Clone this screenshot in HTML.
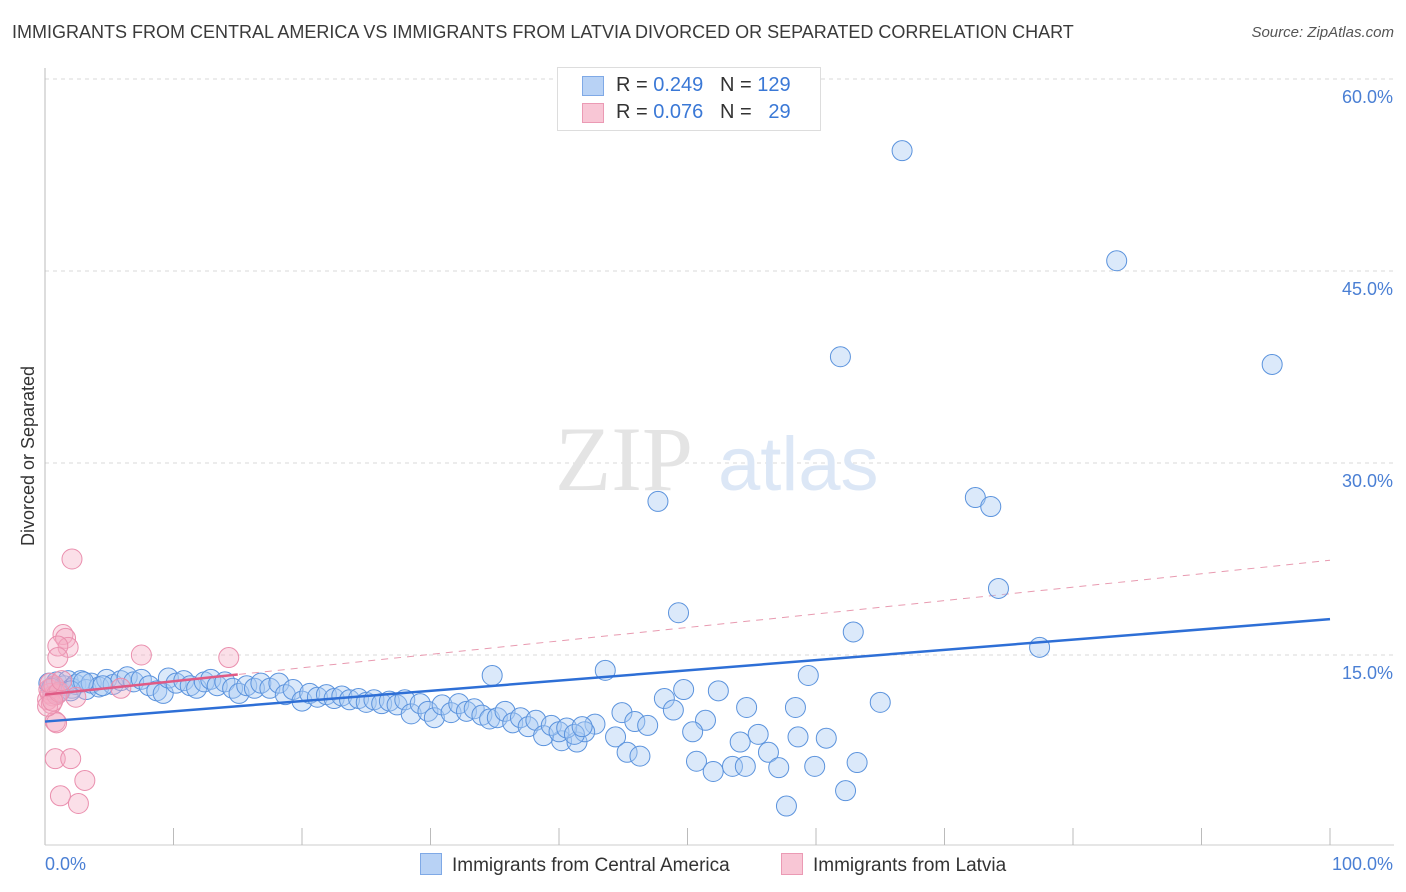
<!DOCTYPE html>
<html><head><meta charset="utf-8">
<style>
body{margin:0;background:#fff;font-family:"Liberation Sans",sans-serif;}
#wrap{position:relative;width:1406px;height:892px;overflow:hidden;}
.t{position:absolute;white-space:nowrap;}
</style></head>
<body>
<div id="wrap">
<div class="t" style="left:12px;top:22px;font-size:18px;color:#3a3a3a;">IMMIGRANTS FROM CENTRAL AMERICA VS IMMIGRANTS FROM LATVIA DIVORCED OR SEPARATED CORRELATION CHART</div>
<div class="t" style="right:12px;top:24px;font-size:15px;color:#555;font-style:italic;">Source: ZipAtlas.com</div>
<svg id="chart" width="1406" height="892" style="position:absolute;left:0;top:0"></svg>
</div>
<script>
const yTicks=[15,30,45,60];
const yTickLabels=["15.0%","30.0%","45.0%","60.0%"];
const xTickLabels=["0.0%","100.0%"];
const blueX=[66.7,83.4,61.9,95.5,47.7,72.4,73.6,74.2,49.3,62.9,77.4,43.6,34.8,59.4,49.7,52.4,48.2,65.0,58.4,54.6,48.9,51.4,44.9,45.9,46.9,42.8,60.8,58.6,55.5,50.4,54.1,56.3,44.4,45.3,46.3,50.7,63.2,52.0,53.5,54.5,57.1,59.9,62.3,57.7,40.2,41.4,42.0,
0.3,0.6,0.9,1.2,1.5,1.8,2.1,2.4,2.8,3.2,3.6,4.2,4.8,5.3,5.9,6.4,6.9,7.5,8.1,8.7,9.2,9.6,10.2,10.8,11.3,11.8,12.4,12.9,13.4,14.0,14.6,15.1,15.7,16.3,16.8,17.5,18.2,18.7,19.3,20.0,20.6,21.2,21.9,22.5,23.1,23.7,24.4,25.0,25.6,26.2,26.8,27.4,28.0,28.5,29.2,29.8,30.3,30.9,31.6,32.2,32.8,33.4,34.0,34.6,35.2,35.8,36.4,37.0,37.6,38.2,38.8,39.4,40.0,40.6,41.2,41.8,1.0,2.0,3.0,4.5,0.5];
const blueY=[54.4,45.8,38.3,37.7,27.0,27.3,26.6,20.2,18.3,16.8,15.6,13.8,13.4,13.4,12.3,12.2,11.6,11.3,10.9,10.9,10.7,9.9,10.5,9.8,9.5,9.6,8.5,8.6,8.8,9.0,8.2,7.4,8.6,7.4,7.1,6.7,6.6,5.9,6.3,6.3,6.2,6.3,4.4,3.2,8.3,8.2,9.0,
12.8,12.5,12.9,12.2,12.6,13.0,12.4,12.7,13.0,12.3,12.8,12.5,13.1,12.7,13.0,13.3,12.9,13.1,12.6,12.2,12.0,13.2,12.8,13.0,12.6,12.4,12.9,13.1,12.6,12.9,12.4,12.0,12.6,12.4,12.8,12.4,12.8,11.9,12.3,11.4,12.0,11.7,11.9,11.6,11.8,11.5,11.6,11.3,11.5,11.2,11.4,11.1,11.5,10.4,11.2,10.6,10.1,11.1,10.5,11.2,10.6,10.8,10.3,10.0,10.1,10.6,9.7,10.1,9.4,9.9,8.7,9.5,9.0,9.3,8.8,9.4,12.0,12.2,12.9,12.6,12.4];
const pinkX=[2.1,1.4,1.6,1.8,1.0,1.0,7.5,14.3,5.9,2.4,0.8,0.9,0.8,2.0,1.2,3.1,2.6,0.2,0.4,0.6,0.3,0.5,0.7,0.9,0.2,1.1,0.4,0.6,1.3];
const pinkY=[22.5,16.6,16.3,15.6,15.7,14.8,15.0,14.8,12.4,11.7,9.8,9.7,6.9,6.9,4.0,5.2,3.4,11.5,12.0,11.8,12.3,11.2,12.6,11.9,11.0,12.1,12.8,11.4,13.0];
const blueFit=[9.8,17.8];
const pinkFit=[11.9,22.4];
const NS="http://www.w3.org/2000/svg";
const svg=document.getElementById('chart');
const X0=45,X1=1330,Y0=847,YS=12.8;
const sx=v=>X0+(X1-X0)*v/100;
const sy=v=>Y0-v*YS;
function mk(tag,attrs,parent){const e=document.createElementNS(NS,tag);for(const k in attrs)e.setAttribute(k,attrs[k]);(parent||svg).appendChild(e);return e;}
yTicks.forEach((t,i)=>{
 const g=mk('line',{x1:45,x2:1394,y1:sy(t),y2:sy(t),stroke:'#d8d8d8','stroke-dasharray':'4,4'});
 
 
 const tx=mk('text',{x:1393,y:sy(t)+24,'text-anchor':'end','font-size':18,fill:'#4a7fd4','font-family':'Liberation Sans'});
 tx.textContent=yTickLabels[i];
 
 
});
const ax=mk('line',{x1:45,x2:45,y1:68,y2:845,stroke:'#bbb'});


const bx=mk('line',{x1:45,x2:1394,y1:845,y2:845,stroke:'#ccc'});


for(let i=1;i<=10;i++){const tk=mk('line',{x1:sx(i*10),x2:sx(i*10),y1:828,y2:845,stroke:'#bbb'});
 
 }
const wm=mk('text',{x:555,y:490,'font-size':92,fill:'#e4e4e4','font-family':'Liberation Serif'});wm.textContent='ZIP';


const wm2=mk('text',{x:718,y:490,'font-size':76,fill:'#dce7f6','font-family':'Liberation Sans'});wm2.textContent='atlas';


const pd=mk('line',{x1:sx(0),y1:sy(pinkFit[0]),x2:sx(100),y2:sy(pinkFit[1]),stroke:'#e89ab0','stroke-dasharray':'7,6','stroke-width':1});


blueX.forEach((v,i)=>{const c=mk('circle',{cx:sx(v),cy:sy(blueY[i]),r:10,fill:'rgba(170,202,242,0.42)',stroke:'#5b93dd','stroke-width':1});
 
 });
pinkX.forEach((v,i)=>{const c=mk('circle',{cx:sx(v),cy:sy(pinkY[i]),r:10,fill:'rgba(245,170,195,0.38)',stroke:'#ea8fae','stroke-width':1});
 
 });
const bl=mk('line',{x1:sx(0),y1:sy(blueFit[0]),x2:sx(100),y2:sy(blueFit[1]),stroke:'#2e6fd6','stroke-width':2.5});


const pl=mk('line',{x1:sx(0),y1:sy(pinkFit[0]),x2:sx(15),y2:sy(pinkFit[0]+(pinkFit[1]-pinkFit[0])*0.15),stroke:'#e05a85','stroke-width':2.5});


const xl0=mk('text',{x:45,y:870,'font-size':18,fill:'#4a7fd4','font-family':'Liberation Sans'});xl0.textContent=xTickLabels[0];


const xl1=mk('text',{x:1393,y:870,'text-anchor':'end','font-size':18,fill:'#4a7fd4','font-family':'Liberation Sans'});xl1.textContent=xTickLabels[1];


const yt=mk('text',{x:34,y:456,'font-size':18,fill:'#333','text-anchor':'middle',transform:'rotate(-90 34 456)','font-family':'Liberation Sans'});yt.textContent='Divorced or Separated';


</script>
<div style="position:absolute;left:557px;top:67px;width:262px;height:62px;border:1px solid #ddd;background:#fff;font-size:20px;color:#333;">
 <div style="position:absolute;left:26px;top:6px;white-space:nowrap;"><span style="position:absolute;left:-2px;top:2px;width:20px;height:18px;background:#b8d2f5;border:1px solid #7fa9e6;"></span><span style="margin-left:32px">R = <span style="color:#3a78d6">0.249</span>&nbsp;&nbsp;&nbsp;N = <span style="color:#3a78d6">129</span></span></div>
 <div style="position:absolute;left:26px;top:33px;white-space:nowrap;"><span style="position:absolute;left:-2px;top:2px;width:20px;height:18px;background:#f8c6d5;border:1px solid #eb9ab4;"></span><span style="margin-left:32px">R = <span style="color:#3a78d6">0.076</span>&nbsp;&nbsp;&nbsp;N = &nbsp;&nbsp;<span style="color:#3a78d6">29</span></span></div>
</div>
<div style="position:absolute;left:420px;top:853px;font-size:19px;color:#333;white-space:nowrap;"><span style="display:inline-block;width:20px;height:20px;background:#b8d2f5;border:1px solid #7fa9e6;vertical-align:-4px;margin-right:10px"></span>Immigrants from Central America</div>
<div style="position:absolute;left:781px;top:853px;font-size:19px;color:#333;white-space:nowrap;"><span style="display:inline-block;width:20px;height:20px;background:#f8c6d5;border:1px solid #eb9ab4;vertical-align:-4px;margin-right:10px"></span>Immigrants from Latvia</div>
</body></html>
